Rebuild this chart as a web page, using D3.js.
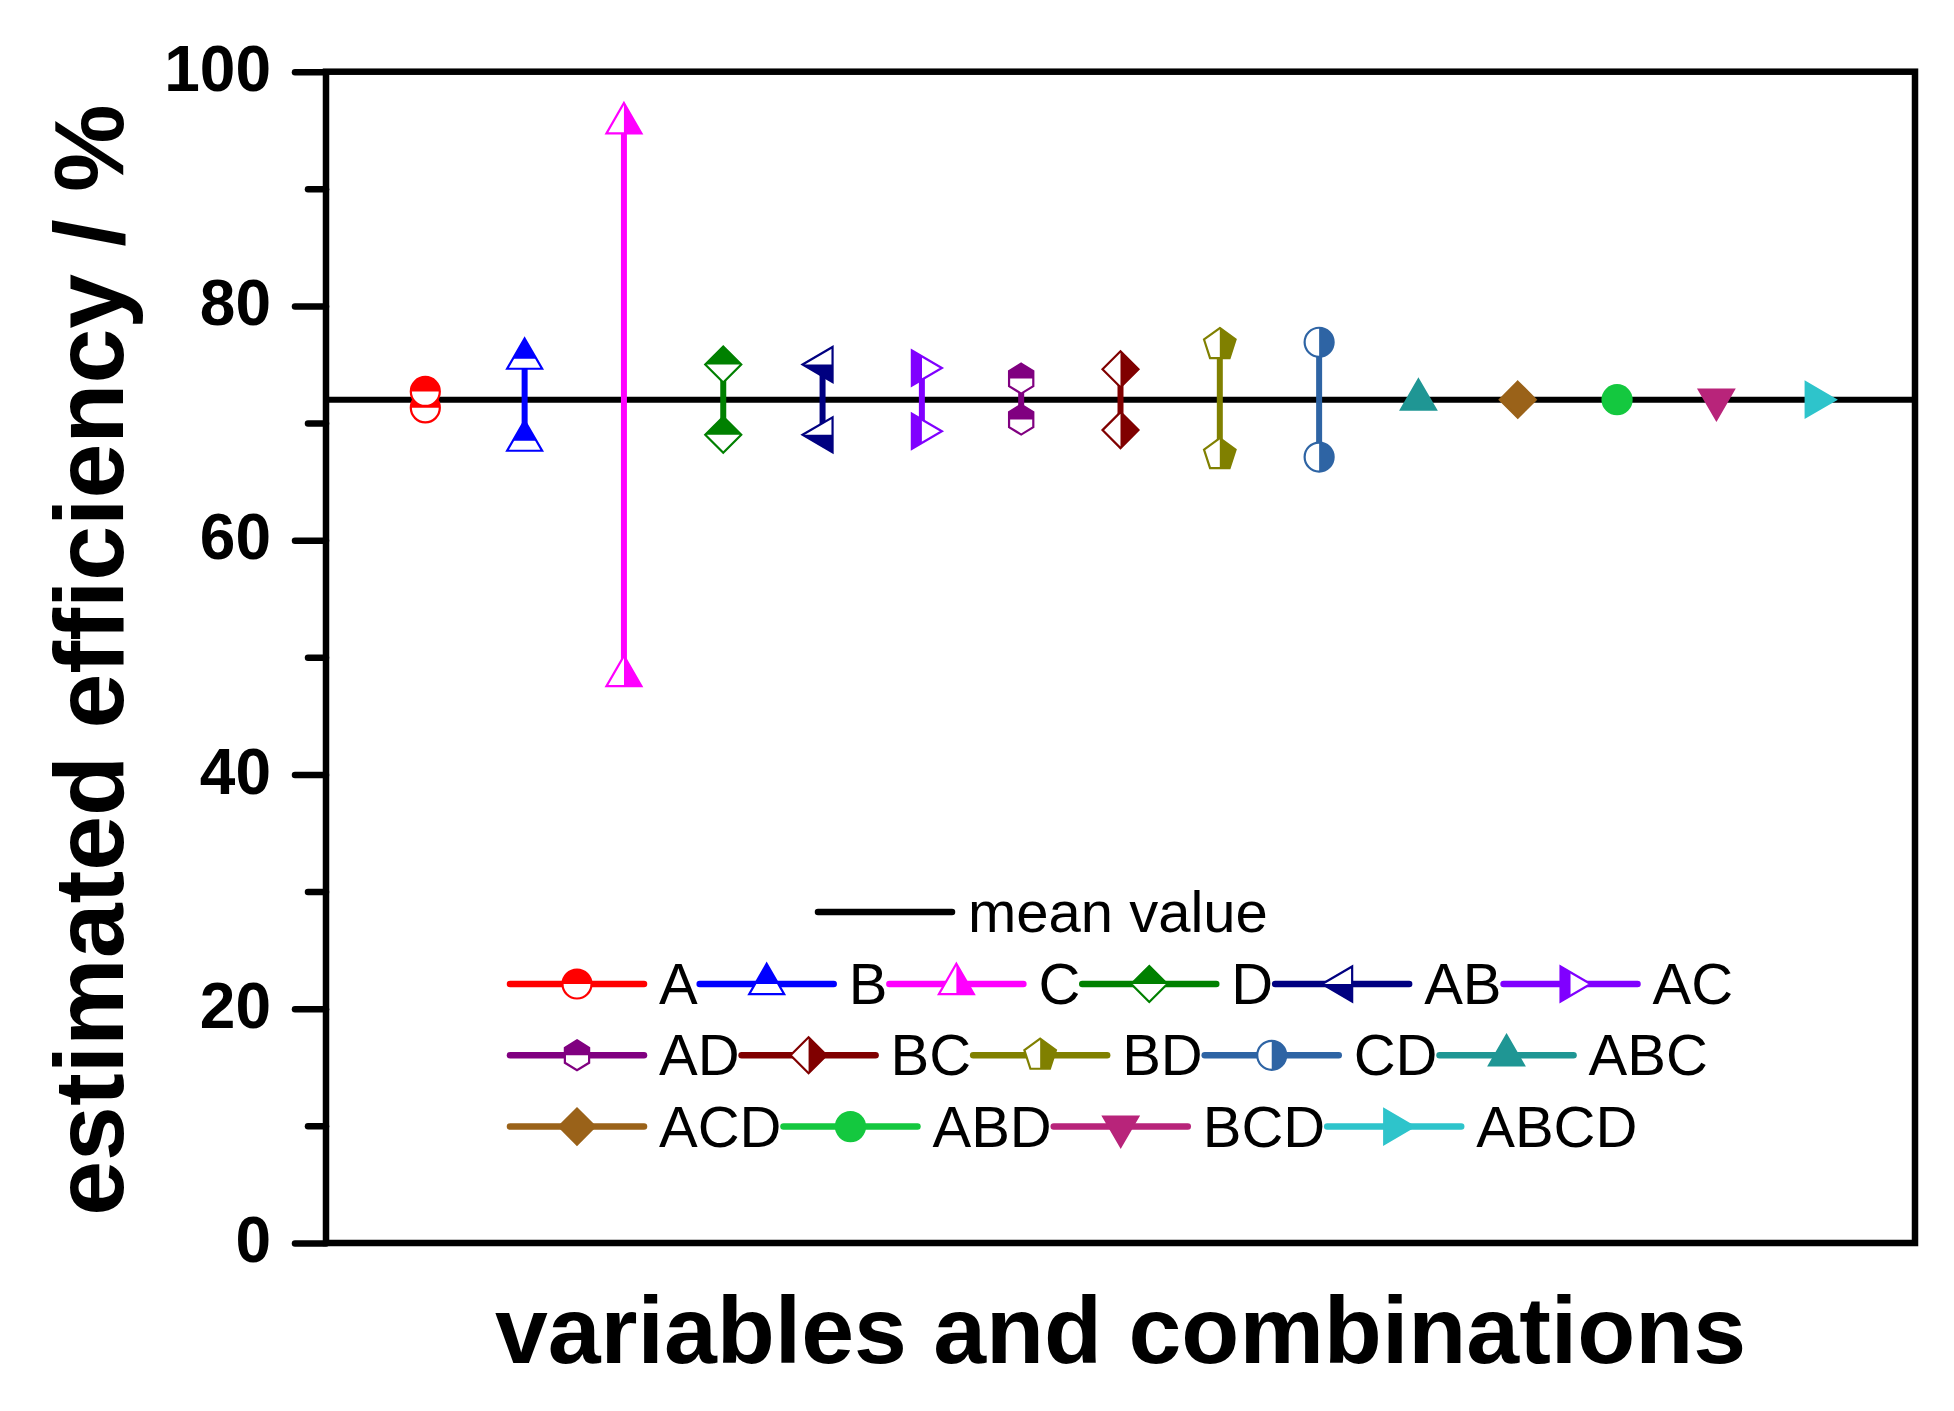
<!DOCTYPE html>
<html>
<head>
<meta charset="utf-8">
<script src="https://cdn.jsdelivr.net/npm/d3@7"></script>
<style>
  body { margin: 0; background: #fff; }
  text { font-family: "Liberation Sans", Arial, sans-serif; fill: #000; }
</style>
</head>
<body>
<svg id="chart"></svg>
<script>
/* ---------- data ---------- */
const categories = ['A', 'B', 'C', 'D', 'AB', 'AC', 'AD', 'BC', 'BD', 'CD', 'ABC', 'ACD', 'ABD', 'BCD', 'ABCD'];
const highValues = [72.7, 75.5, 95.6, 75.0, 75.0, 74.7, 73.8, 74.6, 76.7, 76.9, 72, 72, 72, 72, 72];
const lowValues = [71.3, 68.5, 48.4, 69.0, 69.0, 69.3, 70.3, 69.4, 67.3, 67.1, null, null, null, null, null];
const meanValue = 72;
const colors = ['#FF0000', '#0000FF', '#FF00FF', '#008000', '#000080', '#8000FF', '#800080', '#800000',
  '#808000', '#2E64A4', '#1F9694', '#9A6219', '#14C83F', '#B8247A', '#2EC4CB'];
const symbols = ['circle', 'triangleUp', 'triangleUp', 'diamond', 'triangleLeft', 'triangleRight', 'hexagon',
  'diamond', 'pentagon', 'circle', 'triangleUp', 'diamond', 'circle', 'triangleDown', 'triangleRight'];
const fillHalf = ['top', 'top', 'right', 'top', 'bottom', 'left', 'top', 'right', 'right', 'right',
  'full', 'full', 'full', 'full', 'full'];
const yTicks = [0, 20, 40, 60, 80, 100];
const yMinorTicks = [10, 30, 50, 70, 90];
const legendRows = [6, 5, 4]; // items per legend row

/* ---------- layout ---------- */
const width = 1954;
const height = 1411;
const plot = { left: 326, right: 1915, top: 71.7, bottom: 1243 };

const svg = d3.select('#chart').attr('width', width).attr('height', height);

const x = d3.scalePoint().domain(categories).range([plot.left, plot.right]).padding(1);
const y = d3.scaleLinear().domain([0, 100]).range([plot.bottom, plot.top]);

/* ---------- marker shapes ---------- */
const poly = (pts) => d3.line()(pts) + 'Z';
const shapes = {
  circle: () => {
    const r = 14.5;
    return `M${r},0A${r},${r} 0 1,1 ${-r},0A${r},${r} 0 1,1 ${r},0Z`;
  },
  triangleUp: () => poly([[0, -20.2], [17.5, 10.1], [-17.5, 10.1]]),
  triangleDown: () => poly([[0, 20.2], [17.5, -10.1], [-17.5, -10.1]]),
  triangleLeft: () => poly([[-20, 0], [10, -17.5], [10, 17.5]]),
  triangleRight: () => poly([[20, 0], [-10, -17.5], [-10, 17.5]]),
  diamond: () => poly([[0, -18], [18, 0], [0, 18], [-18, 0]]),
  hexagon: () => poly(d3.range(6).map((k) => {
    const a = (-90 + 60 * k) * Math.PI / 180;
    return [14 * Math.cos(a), 15 * Math.sin(a)];
  })),
  pentagon: () => poly(d3.range(5).map((k) => {
    const a = (-90 + 72 * k) * Math.PI / 180;
    return [16.6 * Math.cos(a), 16.6 * Math.sin(a)];
  })),
};

const defs = svg.append('defs');
const clips = { top: [-40, -40, 80, 40], bottom: [-40, 0, 80, 40], left: [-40, -40, 40, 80], right: [0, -40, 40, 80] };
Object.entries(clips).forEach(([name, [cx, cy, cw, ch]]) => {
  defs.append('clipPath').attr('id', 'clip-' + name)
    .append('rect').attr('x', cx).attr('y', cy).attr('width', cw).attr('height', ch);
});

function drawMarker(g, i) {
  const d = shapes[symbols[i]]();
  g.append('path').attr('d', d).attr('fill', '#fff');
  const filled = g.append('path').attr('d', d).attr('fill', colors[i]);
  if (fillHalf[i] !== 'full') filled.attr('clip-path', `url(#clip-${fillHalf[i]})`);
  g.append('path').attr('d', d).attr('fill', 'none')
    .attr('stroke', colors[i]).attr('stroke-width', 2.2).attr('stroke-linejoin', 'miter');
}

/* ---------- axes ---------- */
const yAxis = svg.append('g')
  .attr('transform', `translate(${plot.left},0)`)
  .call(d3.axisLeft(y).tickValues(yTicks).tickSize(31).tickPadding(24));
yAxis.select('.domain').remove();
yAxis.selectAll('.tick line').attr('stroke-width', 6.5).attr('stroke-linecap', 'round');
yAxis.selectAll('.tick text')
  .attr('font-family', '"Liberation Sans", Arial, sans-serif')
  .attr('font-size', 64).attr('font-weight', 'bold').attr('dy', '0.29em');

const yMinor = svg.append('g')
  .attr('transform', `translate(${plot.left},0)`)
  .call(d3.axisLeft(y).tickValues(yMinorTicks).tickSize(18).tickFormat(''));
yMinor.select('.domain').remove();
yMinor.selectAll('.tick line').attr('stroke-width', 6.5).attr('stroke-linecap', 'round');

/* ---------- mean line ---------- */
svg.append('line')
  .attr('x1', plot.left).attr('x2', plot.right)
  .attr('y1', y(meanValue)).attr('y2', y(meanValue))
  .attr('stroke', '#000').attr('stroke-width', 6);

/* ---------- vertical ranges ---------- */
svg.append('g').selectAll('line')
  .data(categories.map((c, i) => i).filter((i) => lowValues[i] !== null))
  .join('line')
  .attr('x1', (i) => x(categories[i])).attr('x2', (i) => x(categories[i]))
  .attr('y1', (i) => y(lowValues[i])).attr('y2', (i) => y(highValues[i]))
  .attr('stroke', (i) => colors[i]).attr('stroke-width', 6);

/* ---------- markers ---------- */
const markers = svg.append('g');
categories.forEach((c, i) => {
  [lowValues[i], highValues[i]].forEach((v) => {
    if (v === null) return;
    drawMarker(markers.append('g').attr('transform', `translate(${x(c)},${y(v)})`), i);
  });
});

/* ---------- frame ---------- */
svg.append('rect')
  .attr('x', plot.left).attr('y', plot.top)
  .attr('width', plot.right - plot.left).attr('height', plot.bottom - plot.top)
  .attr('fill', 'none').attr('stroke', '#000').attr('stroke-width', 6.5);

/* ---------- axis titles ---------- */
svg.append('text')
  .attr('transform', 'translate(123,660) rotate(-90)')
  .attr('text-anchor', 'middle')
  .attr('font-size', 98.5).attr('font-weight', 'bold')
  .text('estimated efficiency / %');

svg.append('text')
  .attr('x', (plot.left + plot.right) / 2).attr('y', 1363)
  .attr('text-anchor', 'middle')
  .attr('font-size', 95).attr('font-weight', 'bold')
  .text('variables and combinations');

/* ---------- legend ---------- */
const legend = svg.append('g');
const lineLen = 134;
const rowGap = 71.3;

legend.append('line')
  .attr('x1', 818).attr('x2', 818 + lineLen).attr('y1', 912).attr('y2', 912)
  .attr('stroke', '#000').attr('stroke-width', 6.5).attr('stroke-linecap', 'round');
legend.append('text').attr('x', 818 + lineLen + 16).attr('y', 932)
  .attr('font-size', 58).text('mean value');

let idx = 0;
legendRows.forEach((count, r) => {
  const ly = 984 + r * rowGap;
  let lx = 510;
  for (let k = 0; k < count; k++, idx++) {
    const i = idx;
    const item = legend.append('g');
    item.append('line')
      .attr('x1', lx).attr('x2', lx + lineLen).attr('y1', ly).attr('y2', ly)
      .attr('stroke', colors[i]).attr('stroke-width', 6.5).attr('stroke-linecap', 'round');
    drawMarker(item.append('g').attr('transform', `translate(${lx + lineLen / 2},${ly})`), i);
    const t = item.append('text').attr('x', lx + lineLen + 15).attr('y', ly + 20)
      .attr('font-size', 58).text(categories[i]);
    lx = lx + lineLen + 15 + t.node().getComputedTextLength() + 2;
  }
});
</script>
</body>
</html>
